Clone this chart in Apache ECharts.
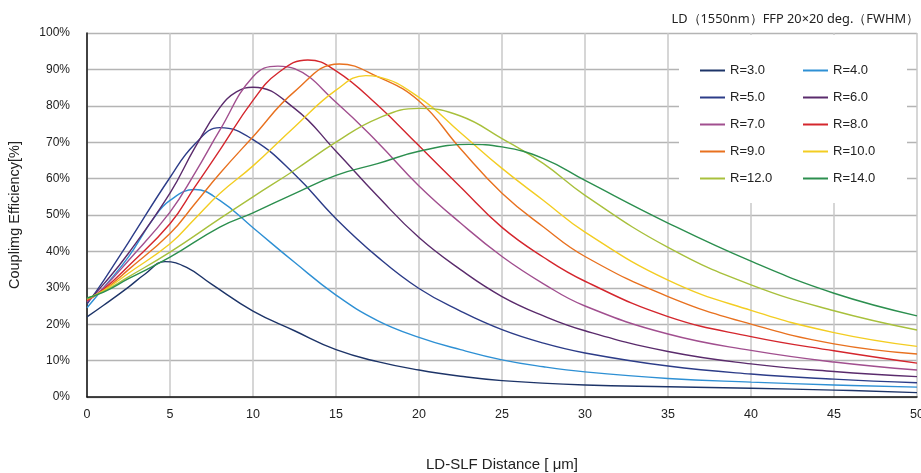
<!DOCTYPE html>
<html>
<head>
<meta charset="utf-8">
<script src="https://cdn.jsdelivr.net/npm/echarts@6/dist/echarts.min.js"></script>
<style>html,body{margin:0;padding:0;background:#fff}#c{width:921px;height:473px}</style>
</head>
<body>
<div id="c"></div>
<script>
// ---- data (x: LD-SLF distance in µm, y: coupling efficiency in %) ----
const seriesNames = ["R=3.0","R=4.0","R=5.0","R=6.0","R=7.0","R=8.0","R=9.0","R=10.0","R=12.0","R=14.0"];
const r3  = [[0,22],[1,25.2],[2.5,30.2],[3.5,33.8],[4.7,37.2],[6,35.6],[7.5,31],[10,23.6],[12.5,18.2],[15,13],[17.5,9.7],[20,7.4],[22.5,5.7],[25,4.5],[30,3.3],[35,2.8],[40,2.4],[45,1.9],[50,1.2]];
const r4  = [[0,24.5],[1,30],[2.5,38.5],[4,49],[5,54],[6.5,57],[8,54],[10,46.5],[12.5,37],[15,28],[17.5,21],[20,16.4],[22.5,13],[25,10.2],[27.5,8.3],[30,6.9],[35,5.1],[40,4.1],[45,3.3],[50,2.7]];
const r5  = [[0,25.5],[1,32],[2.5,42.5],[5,60.3],[6.5,69.5],[8,74],[10,70.7],[12.5,61.2],[15,49],[17.5,38.5],[20,29.8],[22.5,23.6],[25,18.5],[27.5,14.8],[30,12.1],[35,8.5],[40,6.3],[45,4.9],[50,3.9]];
const r6  = [[0,26],[1,31],[2.5,39.5],[5,56],[6.5,68.5],[8,79.5],[9,83.8],[10,85.1],[12.5,79.3],[15,67.5],[17.5,55.2],[20,43.8],[22.5,35],[25,27.6],[27.5,22.3],[30,18.2],[35,12.5],[40,9.1],[45,7],[50,5.6]];
const r7  = [[0,26.2],[1,30],[2.5,37.5],[5,50.8],[6.5,61.5],[8,73.3],[10,88],[11.5,90.9],[12.5,90.2],[15,81],[17.5,70],[20,58],[22.5,47.8],[25,38.6],[27.5,31.1],[30,25],[35,17.3],[40,12.8],[45,9.6],[50,7.4]];
const r8  = [[0,26.5],[1,29.6],[2.5,36],[5,47.6],[6.5,57.7],[8,67.8],[10,81.5],[11.5,89],[13.3,92.6],[15,89.6],[17.5,80.2],[20,69],[22.5,57.7],[25,46.6],[27.5,38.4],[30,31.8],[35,22.1],[40,16.6],[45,12.7],[50,9.3]];
const r9  = [[0,26.7],[1,29.3],[2.5,35],[5,44.9],[6.5,53.1],[8,61.4],[10,71.5],[12.5,83.9],[15.2,91.5],[17.5,88],[20,81.3],[22.5,68.2],[25,56],[27.5,46.7],[30,38.6],[35,27.6],[40,20],[45,14.6],[50,11.8]];
const r10 = [[0,27],[1,29.2],[2.5,34],[5,42.1],[6.5,49],[8,55.9],[10,63.5],[12.5,74.2],[15,84.3],[16.8,88.3],[17.5,88],[20,82.3],[22.5,72.6],[25,62.8],[27.5,54],[30,45.3],[35,32.1],[40,23.8],[45,17.7],[50,13.9]];
const r12 = [[0,27],[1,29],[2.5,33],[5,39.8],[8,49],[10,55],[12.5,62.3],[15,70],[17.5,76.5],[20,79.3],[22.5,77.2],[25,71],[27.5,64.1],[30,55.4],[35,41.1],[40,30.8],[45,23.7],[50,18.4]];
const r14 = [[0,27.2],[1,28.8],[2.5,32.5],[5,38.4],[8,46.7],[10,50.6],[12.5,55.9],[15,60.9],[17.5,64.1],[20,67.5],[23,69.4],[25,68.7],[27.5,65.5],[30,59.5],[35,47.8],[40,37.3],[45,28.5],[50,22.3]];
const seriesData = [r3, r4, r5, r6, r7, r8, r9, r10, r12, r14];
const colors = ["#1d3468","#2e90d4","#2c3c88","#5a2b6c","#a14f8f","#d4262d","#e8711f","#f3cd22","#a8c03c","#2c8f4f"];
const xTicks = {min: 0, max: 50, interval: 5};
const yTicks = {min: 0, max: 100, interval: 10};

const chart = echarts.init(document.getElementById('c'), null, {renderer: 'canvas'});
const series = seriesNames.map((n, i) => ({
  name: n, type: 'line', data: seriesData[i], smooth: 0.45, showSymbol: false, symbol: 'none',
  lineStyle: {color: colors[i], width: 1.4}, itemStyle: {color: colors[i]}, z: 2 + i * 0.01
}));
const legendCommon = {
  orient: 'vertical', top: 64, padding: 0, itemWidth: 25, itemHeight: 10, itemGap: 14,
  icon: 'path://M0,4 L25,4 L25,6 L0,6 Z',
  textStyle: {fontFamily: 'Liberation Sans, Arial, sans-serif', fontSize: 13, color: '#222'},
  backgroundColor: 'transparent', z: 5
};
chart.setOption({
  animation: false,
  color: colors,
  title: {
    text: 'LD（1550nm）FFP 20×20 deg.（FWHM）',
    right: -3, top: 8,
    textStyle: {fontFamily: 'Noto Sans, sans-serif', fontSize: 12.8, fontWeight: 'normal', color: '#222'}
  },
  graphic: [{type: 'rect', shape: {x: 679, y: 35, width: 228, height: 168}, style: {fill: '#fff'}, z: 1, silent: true}],
  legend: [
    Object.assign({}, legendCommon, {left: 700, data: ["R=3.0","R=5.0","R=7.0","R=9.0","R=12.0"]}),
    Object.assign({}, legendCommon, {left: 803, data: ["R=4.0","R=6.0","R=8.0","R=10.0","R=14.0"]})
  ],
  grid: {left: 87, right: 4, top: 33, bottom: 76, containLabel: false, outerBoundsMode: 'none'},
  xAxis: {
    type: 'value', min: xTicks.min, max: xTicks.max, interval: xTicks.interval,
    name: 'LD-SLF Distance [ μm]', nameLocation: 'middle', nameGap: 60,
    nameTextStyle: {fontFamily: 'Liberation Sans Narrow, Liberation Sans, sans-serif', fontSize: 15, color: '#222'},
    axisLine: {show: true, lineStyle: {color: '#111', width: 1.5}},
    axisTick: {show: false},
    axisLabel: {margin: 11, fontFamily: 'Liberation Sans Narrow, Liberation Sans, sans-serif', fontSize: 12.5, color: '#222'},
    splitLine: {show: true, lineStyle: {color: '#c8c8c8', width: 1.5}}
  },
  yAxis: {
    type: 'value', min: yTicks.min, max: yTicks.max, interval: yTicks.interval,
    name: 'Couplimg Efficiency[%]', nameLocation: 'middle', nameGap: 65,
    nameTextStyle: {fontFamily: 'Liberation Sans, Arial, sans-serif', fontSize: 14.5, color: '#222'},
    axisLine: {show: true, lineStyle: {color: '#111', width: 1.5}},
    axisTick: {show: false},
    axisLabel: {margin: 17, formatter: '{value}%', fontFamily: 'Liberation Sans, Arial, sans-serif', fontSize: 12, color: '#222'},
    splitLine: {show: true, lineStyle: {color: '#b4b4b4', width: 1.3}}
  },
  series: series
});
</script>
</body>
</html>
